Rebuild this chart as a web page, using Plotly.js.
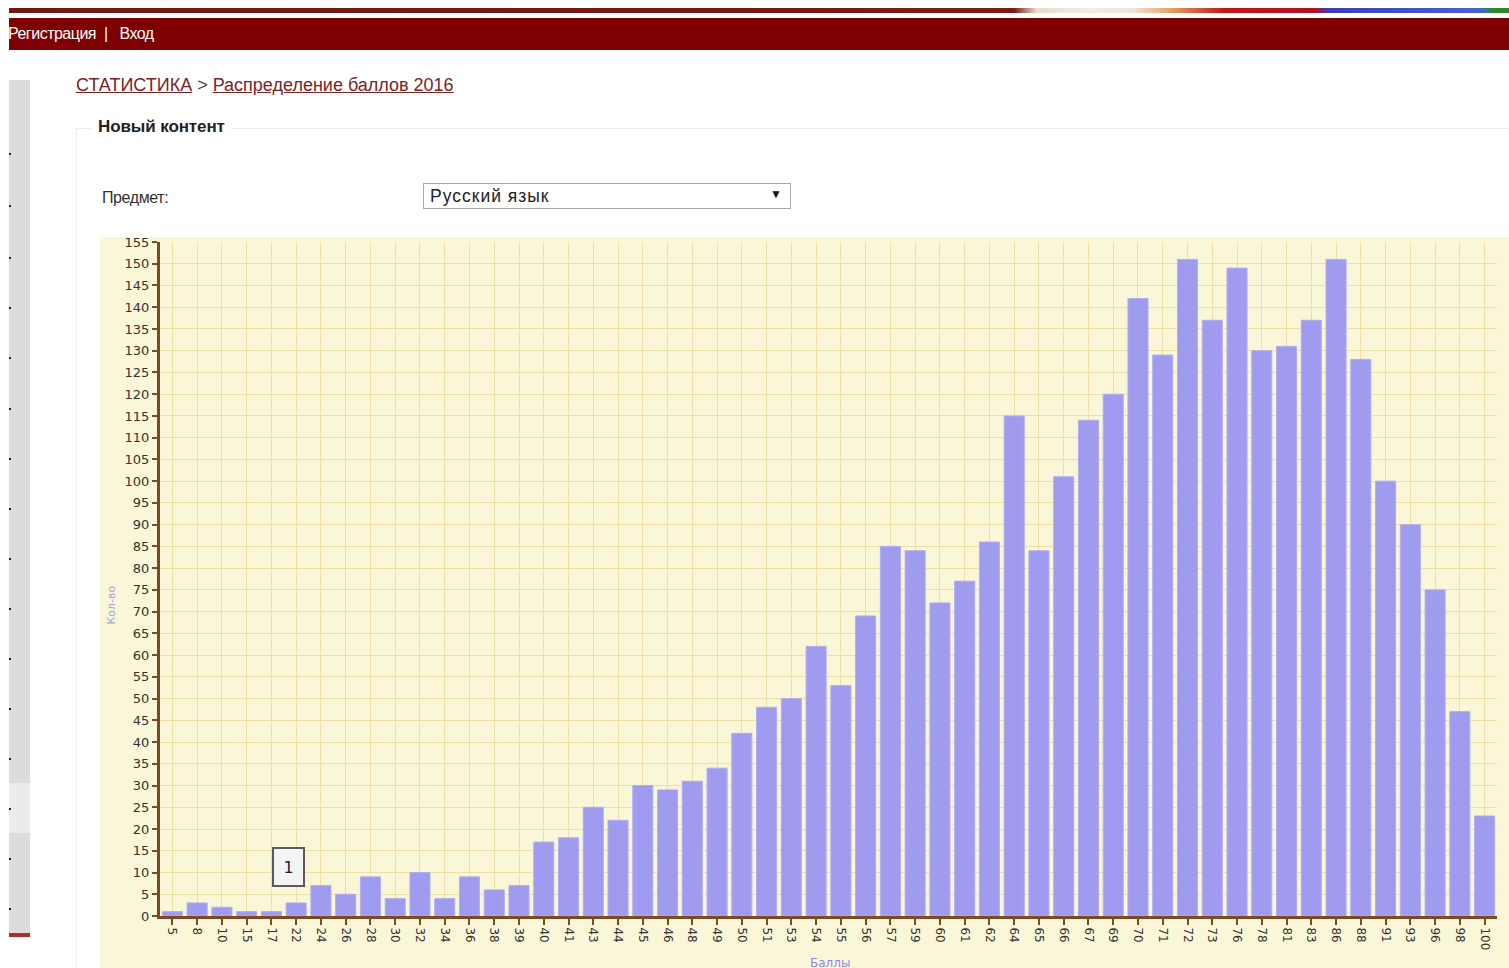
<!DOCTYPE html>
<html lang="ru">
<head>
<meta charset="utf-8">
<script src="https://cdn.plot.ly/plotly-3.0.1.min.js"></script>
<style>
  html, body { margin:0; padding:0; background:#fff; overflow:hidden; width:1509px; height:968px; }
  body { position:relative; font-family:"Liberation Sans", Arial, sans-serif; }
  .abs { position:absolute; }
  #strip { left:9px; top:8px; width:1500px; height:5px;
    background:linear-gradient(to right, #6e1a12 0%, #7a1c12 67%, #e8dccb 68.5%, #f3ece6 72%, #f0e2d8 75%, #e2a060 77.5%, #c01818 81%, #b01020 87%, #3a40b8 88%, #4a60d0 98%, #2a8a2a 99%); }
  #bar { left:9px; top:18px; width:1500px; height:32px; background:#7e0000; overflow:hidden; }
  #bar span { position:absolute; top:7px; color:#fff; font-size:16px; letter-spacing:-0.5px; white-space:nowrap; }
  #side { left:9px; top:80px; width:21px; height:855px; background:#dcdcdc; }
  #sideLight { left:9px; top:783px; width:21px; height:50px; background:#ebebeb; }
  #sideRed { left:9px; top:933px; width:21px; height:4px; background:#b22a2a; }
  .dot { position:absolute; left:9px; width:2px; height:2px; background:#222; }
  #crumb { left:76px; top:75px; font-size:18px; color:#444; white-space:nowrap; }
  #crumb a { color:#7a2424; text-decoration:underline; }
  #fsTop { left:76px; top:128px; width:1433px; height:1px; background:#ececec; }
  #fsLeft { left:76px; top:128px; width:1px; height:840px; background:#ececec; }
  #legend { left:92px; top:117px; padding:0 6px; background:#fff; font-weight:bold; font-size:17px; color:#222; white-space:nowrap; letter-spacing:-0.1px; }
  #lbl { left:102px; top:189px; font-size:16px; color:#333; letter-spacing:-0.4px; }
  #sel { left:423px; top:183px; width:368px; height:26px; border:1px solid #a8a8a8; background:#fff; box-sizing:border-box; }
  #sel .t { position:absolute; left:6px; top:2px; font-size:17.5px; color:#222; letter-spacing:1px; }
  #sel .a { position:absolute; right:8px; top:3px; font-size:12px; color:#111; }
  #chartbg { left:100px; top:237px; width:1409px; height:731px; background:#faf6d8; }
  #chart { left:100px; top:222px; width:1409px; height:760px; }
</style>
</head>
<body>
<div class="abs" id="strip"></div>
<div class="abs" id="bar"><span style="left:-1px">Регистрация&nbsp;&nbsp;|&nbsp;&nbsp;&nbsp;Вход</span></div>
<div class="abs" id="side"></div>
<div class="abs" id="sideLight"></div>
<div class="abs" id="sideRed"></div>
<div id="dots"></div>
<div class="abs" id="crumb"><a>СТАТИСТИКА</a> &gt; <a>Распределение баллов 2016</a></div>
<div class="abs" id="fsTop"></div>
<div class="abs" id="fsLeft"></div>
<div class="abs" id="legend">Новый контент</div>
<div class="abs" id="lbl">Предмет:</div>
<div class="abs" id="sel"><span class="t">Русский язык</span><span class="a">▼</span></div>
<div class="abs" id="chartbg"></div>
<div class="abs" id="chart"></div>
<script>
// sidebar dots
(function(){
  var d = document.getElementById('dots');
  var ys = [153,205,257,307,357,408,458,508,558,608,658,708,758,808,858,908];
  ys.forEach(function(y){ var e=document.createElement('div'); e.className='dot'; e.style.top=y+'px'; d.appendChild(e); });
})();

// ---- data ----
var scores = ['5','8','10','15','17','22','24','26','28','30','32','34','36','38','39','40','41','43','44','45',
              '46','48','49','50','51','53','54','55','56','57','59','60','61','62','64','65','66','67','69','70',
              '71','72','73','76','78','81','83','86','88','91','93','96','98','100'];
var counts = [1,3,2,1,1,3,7,5,9,4,10,4,9,6,7,17,18,25,22,30,
              29,31,34,42,48,50,62,53,69,85,84,72,77,86,115,84,101,114,120,142,
              129,151,137,149,130,131,137,151,128,100,90,75,47,23];
var yTitle = 'Кол-во';
var xTitle = 'Баллы';
var tooltipText = '1';

var brown = '#7a4a22';
var grid = '#efdea6';
var bg = '#faf6d8';

var trace = {
  type:'bar', x:scores, y:counts,
  marker:{color:'#9f9cf0', line:{color:'#b0adf3', width:1}},
  hoverinfo:'y'
};

var layout = {
  width:1409, height:760,
  margin:{l:60, r:12, t:20, b:66, pad:0},
  paper_bgcolor:'rgba(0,0,0,0)', plot_bgcolor:bg,
  bargap:0.19,
  showlegend:false,
  font:{family:'DejaVu Sans, Verdana, sans-serif', color:'#333'},
  xaxis:{
    type:'category', automargin:false,
    tickangle:90, tickfont:{size:12, color:'#333'},
    showgrid:true, gridcolor:grid, gridwidth:1,
    showline:true, linecolor:brown, linewidth:3,
    ticks:'outside', ticklen:6, tickwidth:2, tickcolor:brown,
    zeroline:false, fixedrange:true, ticklabeloverflow:'allow'
  },
  yaxis:{
    range:[0,155], dtick:5, tick0:0, automargin:false,
    tickfont:{size:13, color:'#333'},
    showgrid:true, gridcolor:grid, gridwidth:1,
    showline:true, linecolor:brown, linewidth:3,
    ticks:'outside', ticklen:5, tickwidth:2, tickcolor:brown,
    zeroline:false, fixedrange:true, ticklabeloverflow:'allow'
  },
  annotations:[
    {xref:'paper', yref:'paper', x:-0.036, y:0.462, xanchor:'center', yanchor:'middle',
     text:yTitle, textangle:-90, showarrow:false,
     font:{size:11, color:'#a6a2f0', family:'DejaVu Sans, Verdana, sans-serif'}},
    {xref:'paper', yref:'paper', x:0.501, y:-0.0697, xanchor:'center', yanchor:'middle',
     text:xTitle, showarrow:false,
     font:{size:12, color:'#8f8ae8', family:'DejaVu Sans, Verdana, sans-serif'}},
    {xref:'paper', yref:'paper', x:0.0961, y:0.0727, xanchor:'center', yanchor:'middle',
     text:tooltipText, showarrow:false,
     width:29, height:36, borderwidth:2, bordercolor:'#5a5a5a', bgcolor:'#f4f4f4', borderpad:0,
     font:{size:16, color:'#222', family:'DejaVu Sans, Verdana, sans-serif'}}
  ]
};

Plotly.newPlot('chart', [trace], layout, {displayModeBar:false, staticPlot:true});
</script>
</body>
</html>
